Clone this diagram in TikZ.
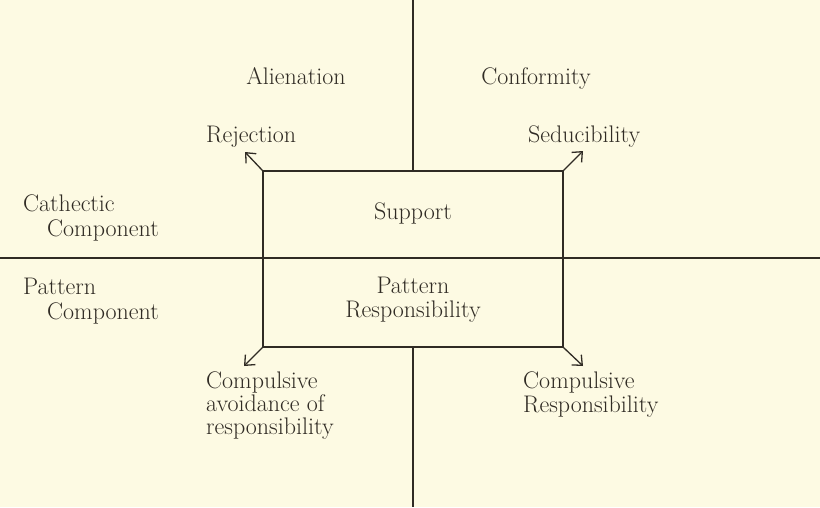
\documentclass[tikz,border=0pt]{standalone}
\usetikzlibrary{arrows.meta}
\definecolor{paper}{RGB}{253,250,227}
\definecolor{ink}{RGB}{48,43,36}
\tikzset{
  lbl/.style={text=ink,font=\fontsize{24}{24}\selectfont,inner sep=0pt,anchor=base},
  axis/.style={draw=ink,line width=1.3pt},
  tip/.style={draw=ink,line width=1.3pt,-{Straight Barb[length=8pt,width=14pt]}}
}
\begin{document}
\begin{tikzpicture}[x=1pt,y=-1pt]
\fill[paper] (0,0) rectangle (820,507);
\useasboundingbox (0,0) rectangle (820,507);
\node[draw=ink,line width=1.3pt,minimum width=300pt,minimum height=176pt,inner sep=0pt] (box) at (413,259) {};
\coordinate (top) at (413,0);
\coordinate (bottom) at (413,507);
\coordinate (left) at (0,258);
\coordinate (right) at (820,258);
\coordinate (nw) at (245,152);
\coordinate (ne) at (583,151);
\coordinate (sw) at (244,366);
\coordinate (se) at (583,366);
\draw[axis] (top)--(box.north);
\draw[axis] (box.south)--(bottom);
\draw[axis,line width=1.8pt] (left)--(right);
\draw[tip] (box.north west)--(nw);
\draw[tip] (box.north east)--(ne);
\draw[tip] (box.south west)--(sw);
\draw[tip] (box.south east)--(se);
% one-line labels sit on their baseline, the others on their last line
\node[lbl] (alien) at (296,84) {Alienation};
\node[lbl] (conf) at (536,84) {Conformity};
\node[lbl,anchor=base west] (rej) at (206,142) {Rejection};
\node[lbl,anchor=base west] (sed) at (528,142) {Seducibility};
\node[lbl,anchor=base west,align=left,font=\fontsize{24}{25}\selectfont] (cath) at (23,236) {Cathectic\\\hspace*{24pt}Component};
\node[lbl,anchor=base west,align=left,font=\fontsize{24}{25}\selectfont] (patc) at (23,319) {Pattern\\\hspace*{24pt}Component};
\node[lbl] (supp) at (413,219) {Support};
\node[lbl,align=center] (patr) at (413,317) {Pattern\\Responsibility};
\node[lbl,anchor=base west,align=left,font=\fontsize{24}{23}\selectfont] (cavoid) at (206,434) {Compulsive\\avoidance of\\responsibility};
\node[lbl,anchor=base west,align=left] (cresp) at (523,412) {Compulsive\\Responsibility};
\end{tikzpicture}
\end{document}
